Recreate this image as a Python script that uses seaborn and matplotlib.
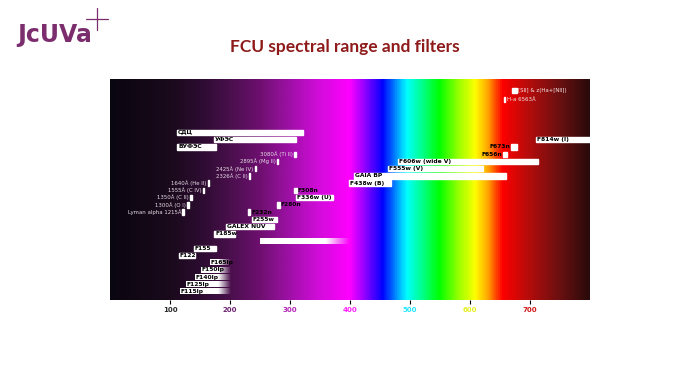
import numpy as np
import matplotlib
matplotlib.use('Agg')
import matplotlib.pyplot as plt
import seaborn as sns
from matplotlib.colors import LinearSegmentedColormap, Normalize
from matplotlib.lines import Line2D

# wide filters / spectrographs, label inside the bar at its start
wide_names = ['СДЦ', 'УФЭС', 'ВУФЭС', 'F814w (I)', 'F606w (wide V)', 'F555w (V)',
              'GAIA BP', 'F438w (B)', 'F336w (U)', 'F255w', 'GALEX NUV', 'F185w',
              'F155', 'F122']
wide_start = [112, 174, 112, 710, 480, 463, 407, 399, 310, 236, 193, 174, 140, 115]
wide_end = [322, 310, 177, 900, 714, 622, 660, 469, 372, 278, 273, 208, 177, 141]
wide_row = [22, 21, 20, 21, 18, 17, 16, 15, 13, 10, 9, 8, 6, 5]

# narrow filters, label beside the bar
narrow_names = ['F673n', 'F656n', 'F308n', 'F280n', 'F232n']
narrow_start = [669, 655, 306, 279, 230]
narrow_end = [679, 661, 311, 283, 234]
narrow_row = [20, 19, 14, 12, 11]
narrow_side = ['left', 'left', 'right', 'right', 'right']

# long-pass filters (fade out towards the detector cut-off)
lp_names = ['F165lp', 'F150lp', 'F140lp', 'F125lp', 'F115lp']
lp_start = [166, 151, 141, 126, 116]
lp_end = 201
lp_row = [4, 3, 2, 1, 0]

# unlabeled fading band
band_start = 250
band_end = 400
band_row = 7

# spectral lines
line_labels = ['3080Å (Ti II)', '2895Å (Mg II)', '2425Å (Ne IV)', '2326Å (C II)',
               '1640Å (He II)', '1555Å (C IV)', '1350Å (C II)', '1300Å (O I)',
               'Lyman alpha 1215Å']
line_wl = [308.0, 279.5, 242.5, 232.6, 164.0, 155.5, 135.0, 130.0, 121.5]
line_row = [19, 18, 17, 16, 15, 14, 13, 12, 11]

# top markers
top_names = ['[SII] & z(Ha+[NII])', 'H-a 6563Å']
top_start = [670, 656]
top_end = [678, 659]
top_row = [27.8, 26.6]

ticks = [100, 200, 300, 400, 500, 600, 700]
tick_colors = ['#2a2a2a', '#6e2470', '#b226b4', '#ff22ff', '#22e6ff', '#e6f020', '#d01818']

sns.set_theme(style='white')
plt.rcParams['font.family'] = ['DejaVu Sans']

spec_stops = [(0, '#0a0610'), (100, '#1a0a1c'), (150, '#2c0c30'), (200, '#4a0f4c'),
              (250, '#6e1070'), (300, '#a010a8'), (350, '#d40cdc'), (400, '#ff00ff'),
              (425, '#9000ff'), (455, '#0000ff'), (475, '#0080ff'), (495, '#00ffff'),
              (520, '#00ff90'), (550, '#00ff00'), (580, '#90ff00'), (610, '#ffff00'),
              (632, '#ffa000'), (655, '#ff0000'), (700, '#b40c0c'), (750, '#6c1010'),
              (800, '#2a0a0a')]
spec_cmap = LinearSegmentedColormap.from_list(
    'spec', [(w / 800, c) for w, c in spec_stops])
norm = Normalize(0, 800)

fig = plt.figure(figsize=(7, 3.92), dpi=100)
ax = fig.add_axes([110 / 700, 1 - 300 / 392, 480 / 700, 221 / 392])
ylo, yhi = -1.15, 29.4
h = 0.75
fs = 4.3

ax.imshow(np.linspace(0, 800, 800)[None, :], cmap=spec_cmap, norm=norm,
          extent=(0, 800, ylo, yhi), aspect='auto', zorder=0)


def fade_bar(x0, x1, xf, y):
    xs = np.linspace(x0, x1, 200)
    img = np.ones((1, 200, 4))
    img[..., 3] = np.clip((x1 - xs) / (x1 - xf), 0, 1)
    ax.imshow(img, extent=(x0, x1, y - h / 2, y + h / 2), aspect='auto',
              zorder=2, interpolation='bilinear')


for n, s, e, r in zip(wide_names, wide_start, wide_end, wide_row):
    ax.barh(r, e - s, left=s, height=h, color='white', zorder=2)
    ax.text(s + 1.5, r, n, ha='left', va='center', fontsize=fs,
            weight='bold', color='black', zorder=3)

for n, s, e, r, side in zip(narrow_names, narrow_start, narrow_end, narrow_row, narrow_side):
    ax.barh(r, e - s, left=s, height=h, color='white', zorder=2)
    if side == 'left':
        ax.text(s - 2, r, n, ha='right', va='center', fontsize=fs,
                weight='bold', color='black', zorder=3)
    else:
        ax.text(e + 1.5, r, n, ha='left', va='center', fontsize=fs,
                weight='bold', color='black', zorder=3)

for n, s, r in zip(lp_names, lp_start, lp_row):
    fade_bar(s, lp_end, 180, r)
    ax.text(s + 1.5, r, n, ha='left', va='center', fontsize=fs,
            weight='bold', color='black', zorder=3)

fade_bar(band_start, band_end, 360, band_row)

for lab, wl, r in zip(line_labels, line_wl, line_row):
    ax.barh(r, 2.5, left=wl - 1.25, height=h, color='white', zorder=2)
    ax.text(wl - 3, r, lab, ha='right', va='center', fontsize=3.9,
            color='#e6dce6', zorder=3)

for n, s, e, r in zip(top_names, top_start, top_end, top_row):
    ax.barh(r, e - s, left=s, height=h, color='white', zorder=2)
    ax.text(e + 2, r, n, ha='left', va='center', fontsize=3.9,
            color='#f4e6e6', zorder=3)

ax.set_xlim(0, 800)
ax.set_ylim(ylo, yhi)
ax.set_yticks([])
ax.set_xticks(ticks)
ax.set_xticklabels([str(t) for t in ticks], fontsize=5, weight='bold')
for lbl, c in zip(ax.get_xticklabels(), tick_colors):
    lbl.set_color(c)
ax.tick_params(axis='x', length=3, width=0.8, color='black', pad=2, bottom=True)
for sp in ax.spines.values():
    sp.set_visible(False)

fig.text(345 / 700, 1 - 47 / 392, 'FCU spectral range and filters', ha='center',
         va='center', color='#8e1a1a', fontsize=12.5, weight='bold', family='Lato')
fig.text(17 / 700, 1 - 35 / 392, 'JcUVa', ha='left', va='center', color='#7b2d6e',
         fontsize=17, weight='bold')
fig.add_artist(Line2D([96.7 / 700] * 2, [1 - 8 / 392, 1 - 30 / 392],
                      transform=fig.transFigure, color='#7b2d6e', lw=0.9))
fig.add_artist(Line2D([86 / 700, 108 / 700], [1 - 19 / 392] * 2,
                      transform=fig.transFigure, color='#7b2d6e', lw=0.9))

fig.savefig('out.png', dpi=100)
